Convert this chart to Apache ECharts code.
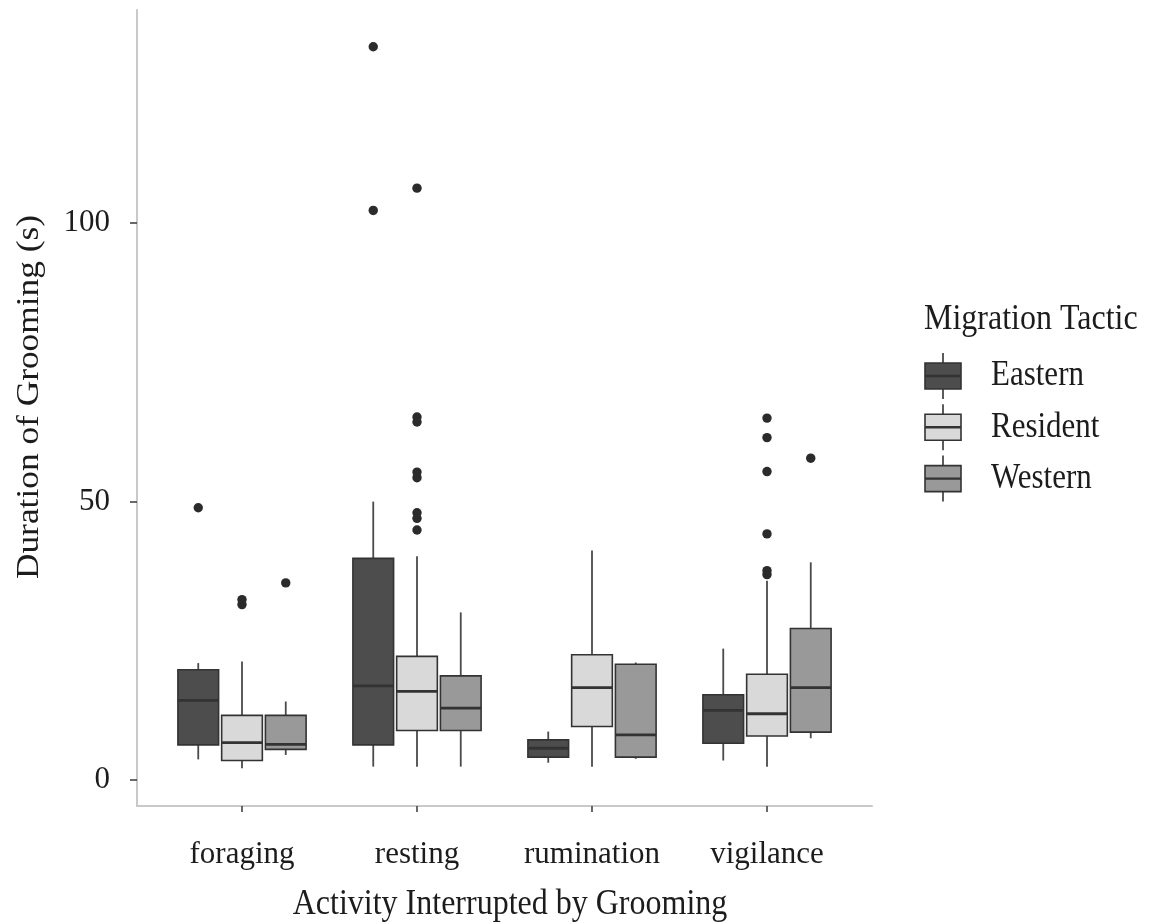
<!DOCTYPE html>
<html>
<head>
<meta charset="utf-8">
<title>Duration of Grooming by Activity</title>
<script src="https://cdn.jsdelivr.net/npm/echarts@6/dist/echarts.min.js"></script>
<style>
  html, body { margin: 0; padding: 0; background: #ffffff; }
  #chart { width: 1152px; height: 924px; }
</style>
</head>
<body>
<div id="chart"></div>
<script>
// Activities on the x axis
const categories = ['foraging', 'resting', 'rumination', 'vigilance'];

// Migration tactic groups and their fills
const groupNames = ['Eastern', 'Resident', 'Western'];
const groupColors = ['#4d4d4d', '#d9d9d9', '#999999'];

// Box statistics per activity: [lower whisker, Q1, median, Q3, upper whisker] (s)
const easternBoxes = [
  [3.7, 6.3, 14.3, 19.8, 21.0],
  [2.4, 6.3, 16.9, 39.8, 50.0],
  [3.1, 4.1, 5.7, 7.2, 8.7],
  [3.5, 6.6, 12.5, 15.3, 23.6]
];
const residentBoxes = [
  [2.1, 3.5, 6.7, 11.6, 21.3],
  [2.4, 8.9, 15.9, 22.2, 40.2],
  [2.4, 9.6, 16.6, 22.5, 41.2],
  [2.4, 7.9, 11.9, 19.0, 35.8]
];
const westernBoxes = [
  [4.5, 5.5, 6.4, 11.6, 14.1],
  [2.4, 8.9, 12.9, 18.7, 30.1],
  [3.8, 4.1, 8.1, 20.8, 21.1],
  [7.5, 8.6, 16.6, 27.2, 39.1]
];

// Outlying observations: [activity index, duration (s)]
const easternOutliers = [[0, 48.9], [1, 102.3], [1, 131.7]];
const residentOutliers = [
  [0, 31.5], [0, 32.4],
  [1, 106.3], [1, 65.2], [1, 64.3], [1, 55.3], [1, 54.3], [1, 48.0], [1, 47.0], [1, 44.9],
  [3, 65.0], [3, 61.5], [3, 55.4], [3, 44.2], [3, 37.6], [3, 36.9]
];
const westernOutliers = [[0, 35.4], [3, 57.8]];

// Axis ticks and titles
const yTicks = [0, 50, 100];
const xTicks = [0, 1, 2, 3];
const xTitle = 'Activity Interrupted by Grooming';
const yTitle = 'Duration of Grooming (s)';
const legendTitle = 'Migration Tactic';

const boxSets = [easternBoxes, residentBoxes, westernBoxes];
const outlierSets = [easternOutliers, residentOutliers, westernOutliers];

const FONT = "'Liberation Serif', 'DejaVu Serif', serif";
const TEXT_COLOR = '#1c1c1c';
const LINE_COLOR = '#333333';
const WHISKER_COLOR = '#4a4a4a';
const DODGE = 0.75;      // share of a category band used by the three boxes
const BOX_FILL = 0.93;   // box width relative to its dodge slot
const TEXT_STRETCH = 1.14; // tall, narrow lettering of the titles

function slotCenter(api, cat, groupIdx) {
  const band = api.size([1, 0])[0];
  const step = band * DODGE / groupNames.length;
  return {
    x: api.coord([cat, 0])[0] + (groupIdx - (groupNames.length - 1) / 2) * step,
    half: step * BOX_FILL / 2
  };
}

function boxRenderer(groupIdx) {
  return function (params, api) {
    const cat = api.value(0);
    const s = slotCenter(api, cat, groupIdx);
    const y = [1, 2, 3, 4, 5].map(function (d) { return api.coord([cat, api.value(d)])[1]; });
    const lo = y[0], q1 = y[1], med = y[2], q3 = y[3], hi = y[4];
    return {
      type: 'group',
      children: [
        { type: 'line', shape: { x1: s.x, y1: hi, x2: s.x, y2: q3 },
          style: { stroke: WHISKER_COLOR, lineWidth: 1.8 } },
        { type: 'line', shape: { x1: s.x, y1: q1, x2: s.x, y2: lo },
          style: { stroke: WHISKER_COLOR, lineWidth: 1.8 } },
        { type: 'rect', shape: { x: s.x - s.half, y: q3, width: s.half * 2, height: q1 - q3 },
          style: { fill: groupColors[groupIdx], stroke: LINE_COLOR, lineWidth: 1.6 } },
        { type: 'line', shape: { x1: s.x - s.half, y1: med, x2: s.x + s.half, y2: med },
          style: { stroke: LINE_COLOR, lineWidth: 2.8 } }
      ]
    };
  };
}

function outlierRenderer(groupIdx) {
  return function (params, api) {
    const cat = api.value(0);
    const s = slotCenter(api, cat, groupIdx);
    const yy = api.coord([cat, api.value(1)])[1];
    return {
      type: 'circle',
      shape: { cx: s.x, cy: yy, r: 4.7 },
      style: { fill: '#2b2b2b' }
    };
  };
}

const series = [];
groupNames.forEach(function (name, g) {
  series.push({
    name: name,
    type: 'custom',
    renderItem: boxRenderer(g),
    encode: { x: 0, y: [1, 2, 3, 4, 5] },
    data: boxSets[g].map(function (b, i) { return [i].concat(b); }),
    silent: true
  });
});
groupNames.forEach(function (name, g) {
  series.push({
    name: name,
    type: 'custom',
    renderItem: outlierRenderer(g),
    encode: { x: 0, y: 1 },
    data: outlierSets[g],
    silent: true,
    z: 3
  });
});

// Titles and the legend, drawn beside the plot
const graphics = [
  {
    type: 'text',
    x: 30, y: 397,
    rotation: Math.PI / 2,
    scaleX: TEXT_STRETCH,
    style: { text: yTitle, font: '31px ' + FONT, fill: TEXT_COLOR, align: 'center', verticalAlign: 'middle' }
  },
  {
    type: 'text',
    x: 510, y: 905,
    scaleY: 1.1,
    style: { text: xTitle, font: '32px ' + FONT, fill: TEXT_COLOR, align: 'center', verticalAlign: 'middle' }
  },
  {
    type: 'text',
    x: 924, y: 320,
    scaleY: 1.1,
    style: { text: legendTitle, font: '32px ' + FONT, fill: TEXT_COLOR, align: 'left', verticalAlign: 'middle' }
  }
];
const legendLeft = 925, legendTop = 376, legendStep = 51.3;
groupNames.forEach(function (name, g) {
  const cy = legendTop + g * legendStep;
  const cx = legendLeft + 18;
  graphics.push({
    type: 'group',
    children: [
      { type: 'line', shape: { x1: cx, y1: cy - 23, x2: cx, y2: cy + 23 },
        style: { stroke: WHISKER_COLOR, lineWidth: 1.8 } },
      { type: 'rect', shape: { x: legendLeft, y: cy - 13, width: 36, height: 26 },
        style: { fill: groupColors[g], stroke: LINE_COLOR, lineWidth: 1.6 } },
      { type: 'line', shape: { x1: legendLeft, y1: cy, x2: legendLeft + 36, y2: cy },
        style: { stroke: LINE_COLOR, lineWidth: 2.4 } }
    ]
  });
  graphics.push({
    type: 'text', x: 991, y: cy,
    scaleY: TEXT_STRETCH,
    style: { text: name, font: '31px ' + FONT, fill: TEXT_COLOR, verticalAlign: 'middle' }
  });
});

const option = {
  backgroundColor: '#ffffff',
  animation: false,
  grid: { left: 137, right: 280, top: 10, bottom: 118, outerBoundsMode: 'none' },
  xAxis: {
    type: 'value',
    min: -0.6,
    max: 3.6,
    axisLine: { show: true, onZero: false, lineStyle: { color: '#c9c9c9', width: 2 } },
    axisTick: { show: true, customValues: xTicks, length: 6, lineStyle: { color: '#444444', width: 1.6 } },
    axisLabel: {
      customValues: xTicks,
      formatter: function (v) { return categories[Math.round(v)]; },
      fontFamily: FONT, fontSize: 31, color: TEXT_COLOR, margin: 33
    },
    splitLine: { show: false }
  },
  yAxis: {
    type: 'value',
    min: -4.67,
    max: 138.3,
    axisLine: { show: true, onZero: false, lineStyle: { color: '#c9c9c9', width: 2 } },
    axisTick: { show: true, customValues: yTicks, length: 7, lineStyle: { color: '#444444', width: 1.6 } },
    axisLabel: {
      customValues: yTicks,
      fontFamily: FONT, fontSize: 31, color: TEXT_COLOR, margin: 27
    },
    splitLine: { show: false }
  },
  graphic: graphics,
  series: series
};

const chart = echarts.init(document.getElementById('chart'), null, { renderer: 'canvas' });
chart.setOption(option);
</script>
</body>
</html>
